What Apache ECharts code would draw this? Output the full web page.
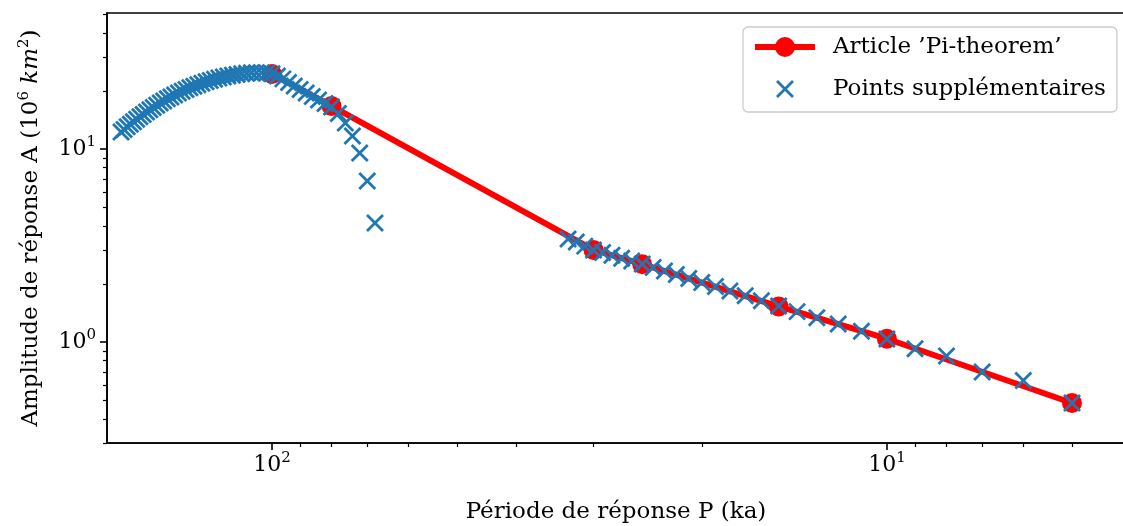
<!DOCTYPE html>
<html>
<head>
<meta charset="utf-8">
<script src="https://cdn.jsdelivr.net/npm/echarts@6/dist/echarts.min.js"></script>
<style>
  html, body { margin: 0; padding: 0; background: #ffffff; }
  #chart { width: 1123px; height: 526px; }
</style>
</head>
<body>
<div id="chart"></div>
<script>
// ---- Data (period P in ka, amplitude A in 10^6 km^2) ----
const redPeriod = [100, 80, 30, 25, 15, 10, 5];
const redAmplitude = [24.5, 16.7, 3.0, 2.53, 1.53, 1.04, 0.483];

const bluePeriod = [
  176, 174, 172, 170, 168, 166, 164, 162, 160, 158, 156, 154, 152, 150, 148, 146, 144, 142, 140, 138,
  136, 134, 132, 130, 128, 126, 124, 122, 120, 118, 116, 114, 112, 110, 108, 106, 104, 102, 100,
  98, 96, 94, 92, 90, 88, 86, 84, 82, 80, 78, 76, 74, 72, 70, 68,
  33, 32, 31, 30, 29, 28, 27, 26, 25, 24, 23, 22, 21, 20, 19, 18, 17, 16, 15, 14, 13, 12, 11, 10, 9, 8, 7, 6, 5
];
const blueAmplitude = [
  12.24, 12.63, 13.03, 13.44, 13.84, 14.26, 14.69, 15.12, 15.54, 15.98, 16.41, 16.86, 17.31, 17.75, 18.2, 18.63, 19.07, 19.5, 19.93, 20.35,
  20.77, 21.17, 21.56, 21.95, 22.32, 22.68, 23.01, 23.32, 23.62, 23.88, 24.13, 24.35, 24.55, 24.7, 24.82, 24.88, 24.85, 24.75, 24.55,
  23.9, 23.1, 22.1, 21.2, 20.34, 19.51, 18.71, 17.94, 17.21, 16.5, 15.3, 13.63, 11.68, 9.54, 6.83, 4.14,
  3.42, 3.30, 3.14, 3.0, 2.906, 2.813, 2.72, 2.628, 2.536, 2.435, 2.336, 2.237, 2.135, 2.036, 1.939, 1.837, 1.739, 1.637, 1.537, 1.437, 1.336, 1.24, 1.136, 1.036, 0.923, 0.846, 0.699, 0.632, 0.483
];

// Axis extents (data units) and ticks
const xRange = [4.1, 185.5];
const yRange = [0.2997, 50.7];
const xMajorTicks = [100, 10];
const yMajorTicks = [10, 1];
const xMinorTicks = [90, 80, 70, 60, 50, 40, 30, 20, 9, 8, 7, 6, 5];
const yMinorTicks = [50, 40, 30, 20, 9, 8, 7, 6, 5, 4, 3, 2, 0.9, 0.8, 0.7, 0.6, 0.5, 0.4, 0.3];

const seriesNames = ['Article \u2019Pi-theorem\u2019', 'Points suppl\u00e9mentaires'];
const xAxisTitle = 'P\u00e9riode de r\u00e9ponse P (ka)';
const yAxisTitle = 'Amplitude de r\u00e9ponse A (10{sup|6} {it|km}{sup|2})';

// ---- Build ----
const L = Math.log10;
const FONT = 'DejaVu Serif';
const redData = redPeriod.map((p, i) => [L(p), L(redAmplitude[i])]);
const blueData = bluePeriod.map((p, i) => [L(p), L(blueAmplitude[i])]);

const powLabel = v => '{b|10}{s|' + Math.round(v) + '}';
const labelRich = {
  b: { fontFamily: FONT, fontSize: 22, lineHeight: 28, color: '#000', verticalAlign: 'middle' },
  s: { fontFamily: FONT, fontSize: 15, lineHeight: 12, color: '#000', verticalAlign: 'top' }
};
const lineCol = '#000000';

function xAxisPair() {
  const base = {
    type: 'value', position: 'bottom', inverse: true,
    min: L(xRange[0]), max: L(xRange[1]), splitLine: { show: false }
  };
  return [
    Object.assign({}, base, {
      axisLine: { show: true, onZero: false, lineStyle: { color: lineCol, width: 1.6 } },
      axisTick: { show: true, length: 7, customValues: xMajorTicks.map(L), lineStyle: { color: lineCol, width: 1.6 } },
      axisLabel: { show: true, margin: 8, customValues: xMajorTicks.map(L), formatter: powLabel, rich: labelRich },
      name: xAxisTitle, nameLocation: 'middle', nameGap: 58,
      nameTextStyle: { fontFamily: FONT, fontSize: 23, color: '#000' }
    }),
    Object.assign({}, base, {
      axisLine: { show: false, onZero: false },
      axisTick: { show: true, length: 4, customValues: xMinorTicks.map(L), lineStyle: { color: lineCol, width: 1.2 } },
      axisLabel: { show: false }
    })
  ];
}
function yAxisPair() {
  const base = {
    type: 'value', position: 'left',
    min: L(yRange[0]), max: L(yRange[1]), splitLine: { show: false }
  };
  return [
    Object.assign({}, base, {
      axisLine: { show: true, onZero: false, lineStyle: { color: lineCol, width: 1.6 } },
      axisTick: { show: true, length: 7, customValues: yMajorTicks.map(L), lineStyle: { color: lineCol, width: 1.6 } },
      axisLabel: { show: true, margin: 11, customValues: yMajorTicks.map(L), formatter: powLabel, rich: labelRich },
      name: yAxisTitle, nameLocation: 'middle', nameGap: 62,
      nameTextStyle: {
        fontFamily: FONT, fontSize: 23, color: '#000', lineHeight: 28,
        rich: {
          sup: { fontFamily: FONT, fontSize: 15, lineHeight: 12, verticalAlign: 'top', color: '#000' },
          it: { fontFamily: FONT, fontSize: 23, lineHeight: 28, fontStyle: 'italic', color: '#000' }
        }
      }
    }),
    Object.assign({}, base, {
      axisLine: { show: false, onZero: false },
      axisTick: { show: true, length: 4, customValues: yMinorTicks.map(L), lineStyle: { color: lineCol, width: 1.2 } },
      axisLabel: { show: false }
    })
  ];
}

const chart = echarts.init(document.getElementById('chart'), null, { renderer: 'canvas' });
chart.setOption({
  animation: false,
  backgroundColor: '#ffffff',
  grid: {
    left: 107, right: -2, top: 13, bottom: 83,
    show: true, borderColor: '#000', borderWidth: 1.6, backgroundColor: 'transparent',
    containLabel: false, outerBoundsMode: 'none'
  },
  xAxis: xAxisPair(),
  yAxis: yAxisPair(),
  legend: {
    orient: 'vertical', left: 743, top: 27,
    padding: [6, 11, 9, 9], itemGap: 14, itemWidth: 60, itemHeight: 25,
    backgroundColor: 'rgba(255,255,255,0.8)', borderColor: '#cccccc', borderWidth: 1.3, borderRadius: 5,
    selectedMode: false,
    textStyle: { fontFamily: FONT, fontSize: 23, color: '#000', lineHeight: 28, padding: [0, 0, 0, 13] },
    data: [
      { name: seriesNames[0], lineStyle: { color: '#ff0000', width: 6 }, itemStyle: { color: '#ff0000', borderWidth: 0 } },
      { name: seriesNames[1], icon: 'path://M0,0M60,25M22,4.5L38,20.5M38,4.5L22,20.5',
        itemStyle: { color: '#1f77b4', borderColor: '#1f77b4', borderWidth: 2.8 } }
    ]
  },
  series: [
    {
      name: seriesNames[0], type: 'line', data: redData, xAxisIndex: 0, yAxisIndex: 0,
      symbol: 'circle', symbolSize: 20, showSymbol: true,
      lineStyle: { color: '#ff0000', width: 6 },
      itemStyle: { color: '#ff0000', borderWidth: 0 },
      z: 2, emphasis: { disabled: true }
    },
    {
      name: seriesNames[1], type: 'scatter', data: blueData, xAxisIndex: 0, yAxisIndex: 0,
      symbol: 'path://M0,0L10,10M10,0L0,10', symbolSize: 16,
      itemStyle: { color: '#1f77b4', borderColor: '#1f77b4', borderWidth: 2.8, opacity: 1 },
      z: 3, emphasis: { disabled: true }
    }
  ]
});
</script>
</body>
</html>
